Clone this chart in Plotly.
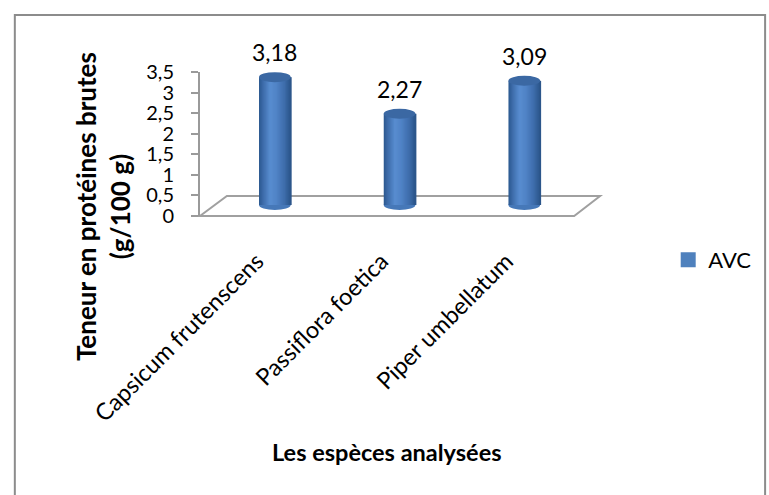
import plotly.graph_objects as go

# ---------------- data ----------------
categories = ["Capsicum frutenscens", "Passiflora foetica", "Piper umbellatum"]
values = [3.18, 2.27, 3.09]
series_name = "AVC"
y_tick_vals = [0, 0.5, 1, 1.5, 2, 2.5, 3, 3.5]
y_tick_text = ["0", "0,5", "1", "1,5", "2", "2,5", "3", "3,5"]
y_title = "Teneur en protéines brutes<br>(g/100 g)"
x_title = "Les espèces analysées"

# ---------------- layout geometry ----------------
W, H = 769, 495
ML, MR, MT, MB = 200, 150, 72, 279
PW = W - ML - MR
PH = H - MT - MB
CAT_PX = 130.0  # pixels per category


def px_x(px):
    return (px - ML) / PW


def px_y(py):
    return (H - MB - py) / PH


FONT = "Lato"
x_pos = list(range(len(categories)))
x_range = [-0.6, -0.6 + PW / CAT_PX]
y_range = [0, 3.5]
bar_px_per_unit = 40.2
bar_zero_px = 205
y2_range = [-(H - MB - bar_zero_px) / bar_px_per_unit, (bar_zero_px - MT) / bar_px_per_unit]
bar_w = 33 / CAT_PX
ell_h = 5 / bar_px_per_unit

# cylinder shading stops (fraction across width, rgb)
stops = [(0.0, (44, 88, 142)), (0.12, (60, 106, 168)), (0.35, (88, 141, 208)),
         (0.55, (80, 131, 198)), (0.8, (62, 109, 172)), (1.0, (42, 84, 136))]


def shade_at(f):
    for (f0, c0), (f1, c1) in zip(stops[:-1], stops[1:]):
        if f0 <= f <= f1:
            t = (f - f0) / (f1 - f0)
            return "rgb({},{},{})".format(*[round(a + (b - a) * t) for a, b in zip(c0, c1)])
    return "rgb({},{},{})".format(*stops[-1][1])


N_SLICES = 28
fig = go.Figure()
# invisible trace so the primary y axis is drawn
fig.add_trace(go.Scatter(x=[x_range[0]], y=[0], mode="markers", marker=dict(opacity=0),
                         showlegend=False, hoverinfo="skip", yaxis="y"))
for k in range(N_SLICES):
    c = shade_at((k + 0.5) / N_SLICES)
    fig.add_trace(go.Bar(
        x=x_pos, y=values, base=0,
        width=bar_w / N_SLICES + 0.008, offset=-bar_w / 2 + k * bar_w / N_SLICES,
        marker=dict(color=c, line=dict(width=0)),
        yaxis="y2", name=series_name,
        showlegend=False, hoverinfo="skip",
    ))
# legend entry
fig.add_trace(go.Scatter(
    x=[None], y=[None], name=series_name, mode="markers",
    marker=dict(color="#4F81BD", symbol="square", size=15),
    showlegend=True, yaxis="y2",
))

shapes = []
# outer chart border (top and left visible)
shapes.append(dict(type="rect", xref="paper", yref="paper",
                   x0=px_x(7), x1=px_x(W + 20), y0=px_y(H + 20), y1=px_y(15),
                   line=dict(color="#8C8C8C", width=2), fillcolor="rgba(0,0,0,0)", layer="below"))
# floor
fx = [200, 590, 617, 228]
fy = [216, 216, 196, 196]
path = "M {},{} L {},{} L {},{} L {},{} Z".format(
    *[v for i in range(4) for v in (px_x(fx[i]), px_y(fy[i]))])
shapes.append(dict(type="path", xref="paper", yref="paper", path=path,
                   line=dict(color="#A0A0A0", width=2), layer="below"))
for i, v in zip(x_pos, values):
    # bottom ellipse
    shapes.append(dict(type="circle", xref="x", yref="y2",
                       x0=i - bar_w / 2, x1=i + bar_w / 2, y0=-ell_h, y1=ell_h,
                       fillcolor="#4678B8", line=dict(width=0), layer="below"))
    # top ellipse
    shapes.append(dict(type="circle", xref="x", yref="y2",
                       x0=i - bar_w / 2, x1=i + bar_w / 2, y0=v - ell_h, y1=v + ell_h,
                       fillcolor="#3B68A3", line=dict(width=0), layer="above"))

annotations = []
for i, v in zip(x_pos, values):
    annotations.append(dict(x=i, y=v, xref="x", yref="y2", yanchor="bottom",
                            yshift=9, showarrow=False,
                            text=f"{v:.2f}".replace(".", ","),
                            font=dict(family=FONT, size=23, color="#000")))
annotations.append(dict(x=px_x(395), y=px_y(452), xref="paper", yref="paper",
                        xanchor="center", yanchor="middle", showarrow=False,
                        text=f"<b>{x_title}</b>",
                        font=dict(family=FONT, size=23.5, color="#000")))
annotations.append(dict(x=px_x(99), y=px_y(207), xref="paper", yref="paper",
                        xanchor="center", yanchor="middle", showarrow=False,
                        textangle=-90, text=f"<b>{y_title}</b>",
                        font=dict(family=FONT, size=26, color="#000")))

fig.update_layout(
    width=W, height=H,
    margin=dict(l=ML, r=MR, t=MT, b=MB),
    paper_bgcolor="white", plot_bgcolor="rgba(0,0,0,0)",
    barmode="overlay",
    separators=", ",
    font=dict(family=FONT, color="#000"),
    shapes=shapes, annotations=annotations,
    showlegend=True,
    legend=dict(x=px_x(688), y=px_y(260), xanchor="left", yanchor="middle",
                font=dict(family=FONT, size=22, color="#000"),
                bgcolor="rgba(0,0,0,0)", itemsizing="trace"),
    xaxis=dict(range=x_range, tickmode="array", tickvals=x_pos, ticktext=categories,
               tickangle=-45, showgrid=False, zeroline=False, showline=False,
               ticks="", tickfont=dict(family=FONT, size=23.5, color="#000"),
               ticklabelshift=-18, ticklabelstandoff=26, fixedrange=True),
    yaxis=dict(range=y_range, tickmode="array", tickvals=y_tick_vals, ticktext=y_tick_text,
               showgrid=False, zeroline=False, showline=True, linecolor="#9A9A9A",
               linewidth=2, ticks="outside", ticklen=7, tickwidth=2, tickcolor="#9A9A9A",
               tickfont=dict(family=FONT, size=20, color="#000"), ticklabelstandoff=13),
    yaxis2=dict(range=y2_range, overlaying="y", visible=False, showgrid=False),
)

fig.write_html("out.html", config={"displayModeBar": False},
               post_script="document.body.style.margin='0';")
